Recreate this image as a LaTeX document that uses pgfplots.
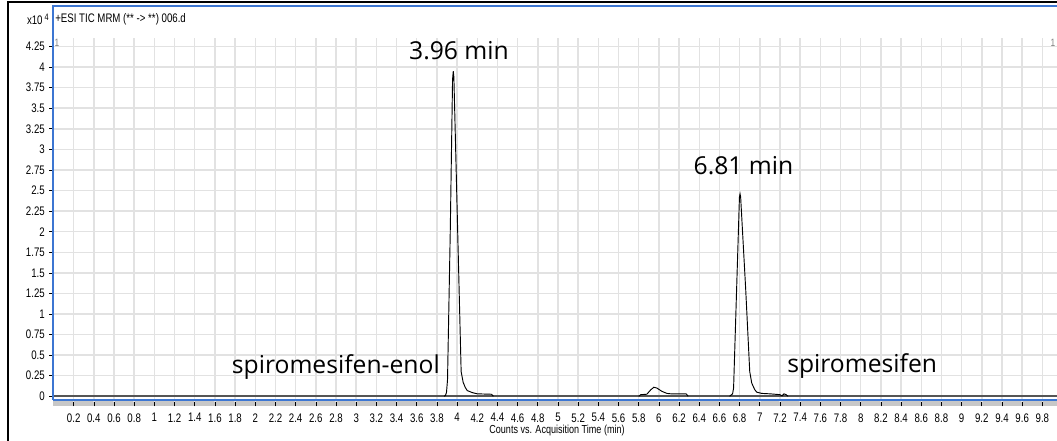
\documentclass[border=0pt]{standalone}
\usepackage{fontspec}
\usepackage{pgfplots}
\pgfplotsset{compat=1.18}
\setmainfont{Liberation Sans}
\newfontfamily\narrow[FakeStretch=0.78]{Liberation Sans}
\newfontfamily\annot{Open Sans}
\definecolor{frameblue}{RGB}{60,118,210}
\definecolor{gridgray}{RGB}{226,226,226}
\definecolor{basegray}{RGB}{85,85,85}

\begin{document}
\begin{tikzpicture}[x=0.75pt,y=0.75pt]
\path[use as bounding box] (0,0) rectangle (1057,441);
% grey band under the x axis
\fill[black!22] (53,35) rectangle (1057,40);
\begin{axis}[
  at={(53,47)}, anchor=south west,
  scale only axis, width=753pt, height=295.5pt,
  xmin=0, xmax=9.95, ymin=-0.073, ymax=4.714,
  xtick={0.2,0.4,...,9.8}, ytick={0,0.25,...,4.25},
  grid=major, grid style={gridgray, line width=1.1pt},
  axis line style={draw=none},
  tick align=outside, xtick pos=bottom, ytick pos=left,
  major tick length=3pt,
  tick style={black, line width=0.5pt},
  ticklabel style={font=\narrow\fontsize{9.3}{10}\selectfont},
  xticklabel style={yshift=-1.8pt},
  /pgf/number format/assume math mode=true,
  no markers,
]
\fill[white] (axis cs:0,4.355) rectangle (axis cs:9.95,4.714);
% baseline
\addplot[basegray, line width=1.5pt] coordinates {(0,0) (9.95,0)};
% peak 1 (spiromesifen-enol)
\addplot[black, line width=0.7pt] coordinates {
  (3.87,0) (3.885,0.01) (3.895,0.05) (3.905,0.2) (3.932,1.99)
  (3.955,3.85) (3.962,3.95) (3.968,3.88) (4.006,1.99) (4.04,0.3)
  (4.06,0.17) (4.08,0.11) (4.10,0.07) (4.15,0.045) (4.2,0.03)
  (4.34,0.025) (4.36,0)
};
% small bump
\addplot[black, line width=0.7pt] coordinates {
  (5.80,0) (5.82,0.02) (5.88,0.025) (5.92,0.08) (5.95,0.11)
  (5.98,0.10) (6.03,0.06) (6.08,0.035) (6.12,0.03) (6.27,0.03) (6.29,0)
};
% peak 2 (spiromesifen)
\addplot[black, line width=0.7pt] coordinates {
  (6.70,0) (6.73,0.03) (6.74,0.1) (6.77,1.3) (6.798,2.42)
  (6.804,2.46) (6.81,2.42) (6.86,1.3) (6.90,0.3) (6.92,0.16)
  (6.95,0.08) (6.97,0.05) (7.02,0.035) (7.10,0.03) (7.20,0.02)
  (7.22,0.005) (7.24,0.03) (7.26,0.02) (7.28,0)
};
\end{axis}
% plot area frame
\draw[frameblue, line width=1.5pt] (53,435) -- (1057,435);
\draw[frameblue, line width=1.5pt] (52.5,41) -- (1057,41);
\draw[frameblue, line width=1.5pt] (52.5,41) -- (52.5,435.75);
% outer border
\draw[black, line width=2pt] (8,0) -- (8,439) -- (1057,439);
% header
\node[anchor=west, inner sep=0, font=\narrow\fontsize{9.3}{10}\selectfont] at (55,422) {+ESI TIC MRM (** -> **) 006.d};
\node[anchor=east, inner sep=0, font=\narrow\fontsize{9.3}{10}\selectfont] at (49,422) {x10\,\raisebox{0.6ex}{\fontsize{7}{8}\selectfont 4}};
\node[gray, inner sep=0, font=\narrow\fontsize{8}{9}\selectfont] at (57,398) {1};
\node[gray, inner sep=0, font=\narrow\fontsize{8}{9}\selectfont] at (1053,398) {1};
% annotations
\node[anchor=base, inner sep=0, font=\annot\fontsize{18.5}{20}\selectfont] at (459,381) {3.96 min};
\node[anchor=base, inner sep=0, font=\annot\fontsize{18.5}{20}\selectfont] at (743.5,266) {6.81 min};
\node[anchor=base east, inner sep=0, font=\annot\fontsize{18.5}{20}\selectfont] at (440,67) {spiromesifen-enol};
\node[anchor=base west, inner sep=0, font=\annot\fontsize{18.5}{20}\selectfont] at (787,68) {spiromesifen};
% x label
\node[inner sep=0, font=\narrow\fontsize{8.7}{10}\selectfont] at (557,10) {Counts vs. Acquisition Time (min)};
\end{tikzpicture}
\end{document}
